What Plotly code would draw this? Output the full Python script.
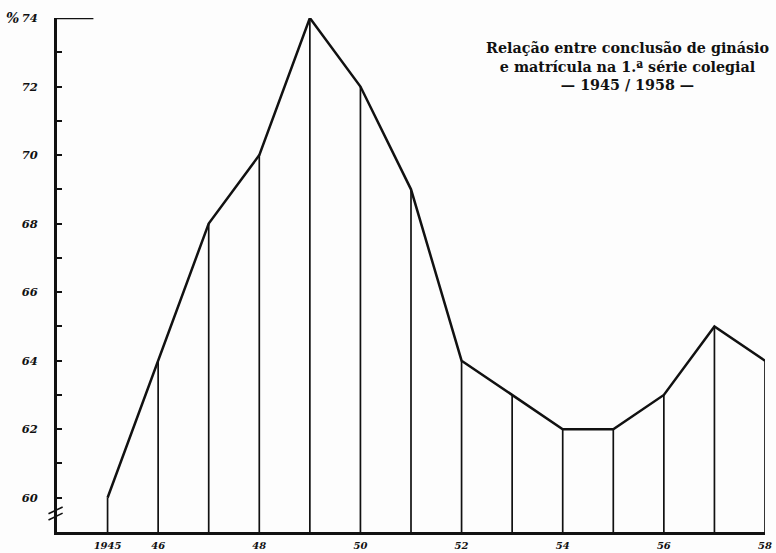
import plotly.graph_objects as go

years = [1945, 1946, 1947, 1948, 1949, 1950, 1951, 1952, 1953, 1954, 1955, 1956, 1957, 1958]
values = [60, 64, 68, 70, 74, 72, 69, 64, 63, 62, 62, 63, 65, 64]
x_tick_vals = [1945, 1946, 1948, 1950, 1952, 1954, 1956, 1958]
x_tick_text = ["1945", "46", "48", "50", "52", "54", "56", "58"]
y_tick_vals = list(range(60, 75))
y_tick_text = [str(v) if v % 2 == 0 else "" for v in y_tick_vals]
y_base = 59

title_lines = ["Relação entre conclusão de ginásio",
               "e matrícula na 1.ª série colegial",
               "— 1945 / 1958 —"]

drop_x, drop_y = [], []
for yr, v in zip(years, values):
    drop_x += [yr, yr, None]
    drop_y += [y_base, v, None]

fig = go.Figure()
fig.add_trace(go.Scatter(x=drop_x, y=drop_y, mode="lines",
                         line=dict(color="#111", width=1.7), hoverinfo="skip",
                         showlegend=False, cliponaxis=False))
fig.add_trace(go.Scatter(x=years, y=values, mode="lines",
                         line=dict(color="#111", width=2.5), showlegend=False,
                         cliponaxis=False))

y_font = dict(family="DejaVu Serif", size=11.5, color="#111", weight="bold", style="italic")
x_font = dict(family="DejaVu Serif", size=10, color="#111", weight="bold", style="italic")

fig.update_layout(
    width=776, height=553,
    margin=dict(l=57, r=11, t=18, b=21),
    paper_bgcolor="#fdfdfd", plot_bgcolor="#fdfdfd",
    xaxis=dict(range=[1944, 1958], showgrid=False, zeroline=False, automargin=False,
               showline=True, linecolor="#111", linewidth=2.5,
               tickvals=x_tick_vals, ticktext=x_tick_text, ticks="",
               tickfont=x_font, ticklabelstandoff=2),
    yaxis=dict(range=[y_base, 74], showgrid=False, zeroline=False, automargin=False,
               showline=True, linecolor="#111", linewidth=3,
               tickvals=y_tick_vals, ticktext=y_tick_text,
               ticks="inside", ticklen=5, tickwidth=2, tickcolor="#111",
               tickfont=y_font, ticklabelstandoff=14),
    showlegend=False,
)

# top stub of the y axis
fig.add_shape(type="line", xref="x", yref="y", x0=1944, x1=1944.72, y0=74, y1=74,
              line=dict(color="#111", width=2.5))
# axis break marks
for dy in (0.0, 0.18):
    fig.add_shape(type="line", xref="paper", yref="y", x0=-0.012, x1=0.008,
                  y0=59.35 + dy, y1=59.55 + dy, line=dict(color="#111", width=1.6))

fig.add_annotation(text="%", xref="paper", yref="y", x=-0.063, y=74, xanchor="center",
                   showarrow=False, font=dict(family="DejaVu Serif", size=14, color="#111",
                                               weight="bold", style="italic"))

fig.add_annotation(text="<br>".join(title_lines), xref="paper", yref="paper",
                   x=0.806, y=0.962, xanchor="center", yanchor="top", align="center",
                   showarrow=False,
                   font=dict(family="DejaVu Serif", size=14.3, color="#111", weight="bold"))

fig.write_html("out.html",
               config={"displayModeBar": False},
               post_script="document.body.style.margin='0';document.body.style.overflow='hidden';")
